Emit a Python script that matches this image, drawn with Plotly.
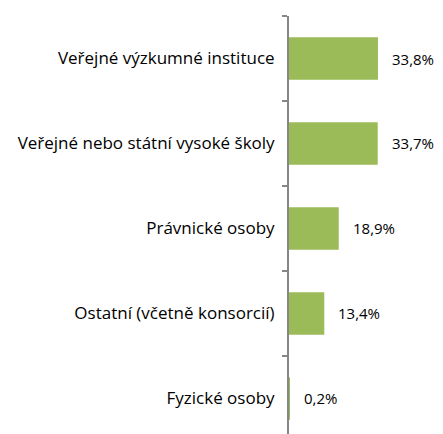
import plotly.graph_objects as go

categories = ["Veřejné výzkumné instituce", "Veřejné nebo státní vysoké školy",
              "Právnické osoby", "Ostatní (včetně konsorcií)", "Fyzické osoby"]
values = [33.8, 33.7, 18.9, 13.4, 0.2]
labels = ["33,8%", "33,7%", "18,9%", "13,4%", "0,2%"]

cats_r = categories[::-1]
vals_r = values[::-1]
labs_r = labels[::-1]

FONT = 17

fig = go.Figure()
fig.add_trace(go.Bar(
    x=vals_r, y=cats_r, orientation="h",
    marker=dict(color="#9BBB59", line=dict(width=0)),
    width=0.5, hoverinfo="skip",
))
for v, c, t in zip(vals_r, cats_r, labs_r):
    fig.add_annotation(x=v, y=c, text=t, showarrow=False, xanchor="left",
                       xshift=12, font=dict(size=15, color="#000000"))

fig.update_layout(
    width=435, height=426,
    margin=dict(l=281, r=0, t=8, b=0, autoexpand=False),
    paper_bgcolor="white", plot_bgcolor="white",
    font=dict(family="Open Sans", size=FONT, color="#000000"),
    showlegend=False,
    xaxis=dict(range=[0, 58.5], visible=False, fixedrange=True),
    yaxis=dict(type="category", categoryorder="array", categoryarray=cats_r,
               range=[-0.418, 4.5], showline=True, linecolor="#868686", linewidth=2,
               ticks="outside", tickson="boundaries", ticklen=5, tickcolor="#868686",
               tickwidth=1.5, ticklabelstandoff=9, showgrid=False, zeroline=False,
               automargin=False, tickfont=dict(size=FONT, color="#000000")),
)
fig.write_html("out.html")
